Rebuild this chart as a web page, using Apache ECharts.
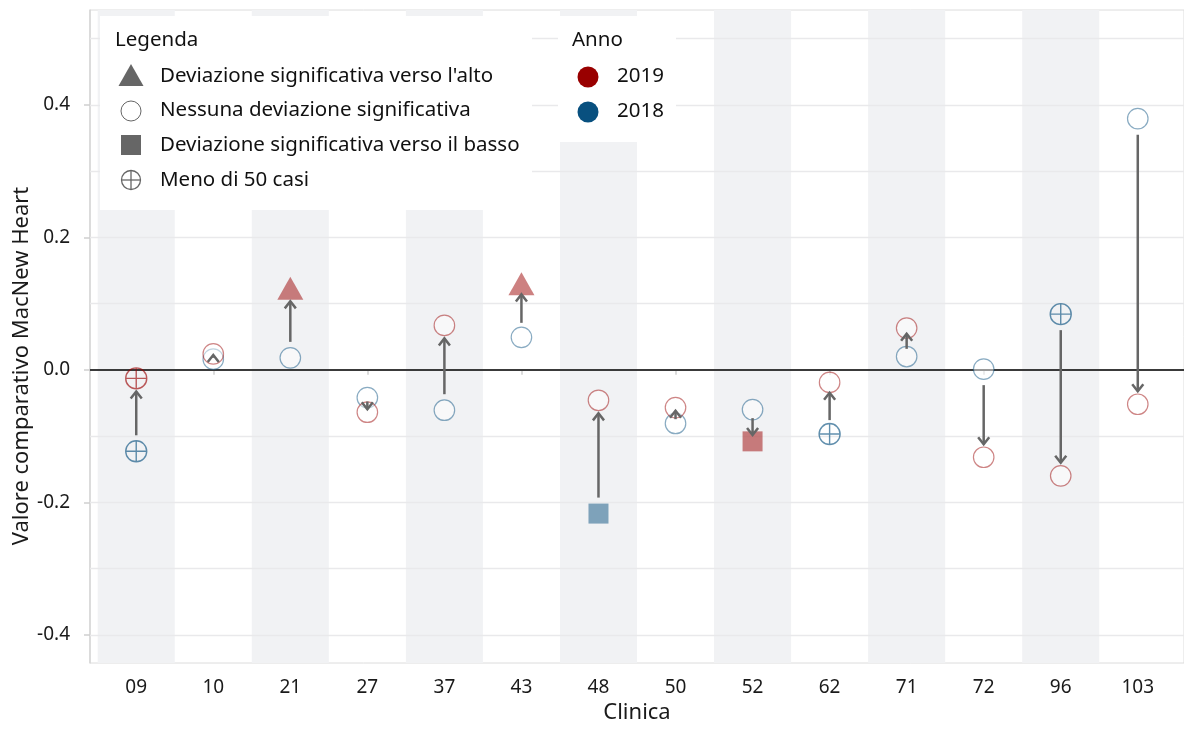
<!DOCTYPE html>
<html>
<head>
<meta charset="utf-8">
<script src="https://cdn.jsdelivr.net/npm/echarts@6/dist/echarts.min.js"></script>
<style>
html,body{margin:0;padding:0;background:#fff;}
#chart{width:1184px;height:729px;}
</style>
</head>
<body>
<div id="chart"></div>
<script>
// ---- data ----
const categories = ['09','10','21','27','37','43','48','50','52','62','71','72','96','103'];
const values2019 = [-0.013, 0.024, 0.123, -0.064, 0.067, 0.130, -0.046, -0.057, -0.108, -0.019, 0.063, -0.132, -0.160, -0.052];
const values2018 = [-0.123, 0.016, 0.018, -0.042, -0.061, 0.049, -0.217, -0.081, -0.060, -0.097, 0.020, 0.001, 0.084, 0.379];
// status: up = significant upward, none = no significant deviation, down = significant downward, few = fewer than 50 cases
const status2019 = ['few','none','up','none','none','up','none','none','down','none','none','none','none','none'];
const status2018 = ['few','none','none','none','none','none','down','none','none','few','none','none','few','none'];
const yTickValues = [-0.4, -0.2, 0.0, 0.2, 0.4];
const yGridValues = [-0.4, -0.3, -0.2, -0.1, 0.1, 0.2, 0.3, 0.4, 0.5];

// ---- styles ----
const FONT = 'Noto Sans';
const RED = [153, 0, 0];
const BLUE = [8, 80, 127];
const rgba = (c, a) => `rgba(${c[0]},${c[1]},${c[2]},${a})`;
const CROSS = 'path://M0,-10A10,10,0,1,1,0,10A10,10,0,1,1,0,-10ZM-10,0L10,0M0,-10L0,10';

function pointSeries(name, vals, stats, col) {
  const out = [];
  const defs = {
    none: {symbol: 'circle', symbolSize: 20.5, itemStyle: {color: 'rgba(255,255,255,0.6)', borderColor: rgba(col, 0.6), borderWidth: 1.2}},
    up: {symbol: 'triangle', symbolSize: [26, 23], itemStyle: {color: rgba(col, 0.62), borderWidth: 0}},
    down: {symbol: 'rect', symbolSize: 20, itemStyle: {color: rgba(col, 0.62), borderWidth: 0}},
    few: {symbol: CROSS, symbolSize: 21, itemStyle: {color: 'rgba(0,0,0,0)', borderColor: rgba(col, 0.8), borderWidth: 1.4}}
  };
  Object.keys(defs).forEach(k => {
    const data = [];
    vals.forEach((v, i) => { if (stats[i] === k) data.push([i + 1, v]); });
    if (!data.length) return;
    out.push(Object.assign({
      type: 'scatter', name: name + '-' + k, data: data, z: 5, silent: true,
      emphasis: {disabled: true}
    }, defs[k]));
  });
  return out;
}

const bandData = [];
categories.forEach((c, i) => { if (i % 2 === 0) bandData.push([{xAxis: i + 0.5}, {xAxis: i + 1.5}]); });

const arrowData = categories.map((c, i) => [i + 1, values2018[i], values2019[i]]);

const chart = echarts.init(document.getElementById('chart'), null, {renderer: 'canvas'});

const TXT = '#1a1a1a';
const LFS = 20.5;

const option = {
  animation: false,
  textStyle: {fontFamily: FONT},
  grid: {left: 90, top: 10, width: 1099, height: 659, show: true, borderColor: '#dcdcdc', borderWidth: 1, backgroundColor: '#fff'},
  xAxis: {
    type: 'value', min: 0.4, max: 14.6,
    axisLine: {show: true, lineStyle: {color: '#d6d6d6', width: 1.5}},
    axisTick: {show: true, customValues: categories.map((c, i) => i + 1), length: 5, lineStyle: {color: '#cfcfcf', width: 1.5}},
    axisLabel: {customValues: categories.map((c, i) => i + 1), formatter: v => categories[Math.round(v) - 1], color: TXT, fontSize: 19, margin: 15, fontFamily: FONT},
    splitLine: {show: false},
    name: 'Clinica', nameLocation: 'middle', nameGap: 39,
    nameTextStyle: {fontSize: 22, color: TXT, fontFamily: FONT}
  },
  yAxis: {
    type: 'value', min: -0.4425, max: 0.543,
    axisLine: {show: true, lineStyle: {color: '#d6d6d6', width: 1.5}},
    axisTick: {show: true, customValues: yTickValues, length: 6, lineStyle: {color: '#cfcfcf', width: 1.5}},
    axisLabel: {customValues: yTickValues, formatter: v => v.toFixed(1), color: TXT, fontSize: 19, margin: 20, fontFamily: FONT},
    splitLine: {show: false}
  },
  series: [
    {
      type: 'scatter', data: [], silent: true, z: 1,
      markArea: {silent: true, itemStyle: {color: '#f1f2f4'}, data: bandData}
    },
    {
      type: 'scatter', data: [], silent: true, z: 2,
      markLine: {silent: true, symbol: 'none', label: {show: false},
        lineStyle: {color: '#e9e9eb', width: 1.3, type: 'solid'},
        data: yGridValues.map(v => ({yAxis: v}))}
    },
    {
      type: 'scatter', data: [], silent: true, z: 3,
      markLine: {silent: true, symbol: 'none', label: {show: false},
        lineStyle: {color: '#3a3a3a', width: 2, type: 'solid'},
        data: [{yAxis: 0}]}
    },
    ...pointSeries('2018', values2018, status2018, BLUE),
    ...pointSeries('2019', values2019, status2019, RED),
    {
      type: 'custom', z: 10, silent: true,
      data: arrowData,
      encode: {x: 0, y: [1, 2]},
      renderItem: function (params, api) {
        const x = api.value(0), a = api.value(1), b = api.value(2);
        const p1 = api.coord([x, a]), p2 = api.coord([x, b]);
        const L = Math.abs(p2[1] - p1[1]);
        const d = p2[1] < p1[1] ? -1 : 1;
        const g1 = Math.min(0.27 * L, 16), g2 = Math.min(0.2 * L, 13);
        const y1 = p1[1] + d * g1, y2 = p2[1] - d * g2;
        const hl = 9, ang = 38 * Math.PI / 180;
        const hx = hl * Math.sin(ang), hy = hl * Math.cos(ang);
        const cx = p1[0];
        return {type: 'group', children: [
          {type: 'line', shape: {x1: cx, y1: y1, x2: cx, y2: y2}, style: {stroke: '#666', lineWidth: 2.5}},
          {type: 'polyline', shape: {points: [[cx - hx, y2 - d * hy], [cx, y2], [cx + hx, y2 - d * hy]]}, style: {stroke: '#666', lineWidth: 2.5, fill: null, lineJoin: 'miter'}}
        ]};
      }
    }
  ],
  graphic: [
    // y-axis title (centred on the figure height, as in the reference)
    {type: 'text', z: 50, x: 22, y: 366, rotation: Math.PI / 2, style: {text: 'Valore comparativo MacNew Heart', fontSize: 22, fontFamily: FONT, fill: TXT, align: 'center', verticalAlign: 'middle'}},
    // Legenda box
    {type: 'rect', z: 100, shape: {x: 100, y: 16, width: 432, height: 194}, style: {fill: '#fff'}},
    {type: 'text', z: 101, x: 115, y: 40, style: {text: 'Legenda', fontSize: LFS, fontFamily: FONT, fill: '#111', verticalAlign: 'middle'}},
    {type: 'polygon', z: 101, shape: {points: [[131, 64], [143.5, 86], [118.5, 86]]}, style: {fill: '#666'}},
    {type: 'text', z: 101, x: 160, y: 76, style: {text: "Deviazione significativa verso l'alto", fontSize: LFS, fontFamily: FONT, fill: '#111', verticalAlign: 'middle'}},
    {type: 'circle', z: 101, shape: {cx: 131, cy: 111, r: 10}, style: {fill: '#fff', stroke: '#666', lineWidth: 1}},
    {type: 'text', z: 101, x: 160, y: 110, style: {text: 'Nessuna deviazione significativa', fontSize: LFS, fontFamily: FONT, fill: '#111', verticalAlign: 'middle'}},
    {type: 'rect', z: 101, shape: {x: 121, y: 135, width: 20, height: 20}, style: {fill: '#666'}},
    {type: 'text', z: 101, x: 160, y: 145, style: {text: 'Deviazione significativa verso il basso', fontSize: LFS, fontFamily: FONT, fill: '#111', verticalAlign: 'middle'}},
    {type: 'circle', z: 101, shape: {cx: 131, cy: 180, r: 9.5}, style: {fill: null, stroke: '#666', lineWidth: 1.3}},
    {type: 'line', z: 101, shape: {x1: 121.5, y1: 180, x2: 140.5, y2: 180}, style: {stroke: '#666', lineWidth: 1.3}},
    {type: 'line', z: 101, shape: {x1: 131, y1: 170.5, x2: 131, y2: 189.5}, style: {stroke: '#666', lineWidth: 1.3}},
    {type: 'text', z: 101, x: 160, y: 180, style: {text: 'Meno di 50 casi', fontSize: LFS, fontFamily: FONT, fill: '#111', verticalAlign: 'middle'}},
    // Anno box
    {type: 'rect', z: 100, shape: {x: 558, y: 16, width: 118, height: 126}, style: {fill: '#fff'}},
    {type: 'text', z: 101, x: 572, y: 40, style: {text: 'Anno', fontSize: LFS, fontFamily: FONT, fill: '#111', verticalAlign: 'middle'}},
    {type: 'circle', z: 101, shape: {cx: 588, cy: 77, r: 10.5}, style: {fill: 'rgb(153,0,0)'}},
    {type: 'text', z: 101, x: 617, y: 76, style: {text: '2019', fontSize: LFS, fontFamily: FONT, fill: '#111', verticalAlign: 'middle'}},
    {type: 'circle', z: 101, shape: {cx: 588, cy: 112, r: 10.5}, style: {fill: 'rgb(8,80,127)'}},
    {type: 'text', z: 101, x: 617, y: 111, style: {text: '2018', fontSize: LFS, fontFamily: FONT, fill: '#111', verticalAlign: 'middle'}}
  ]
};
chart.setOption(option);
</script>
</body>
</html>
